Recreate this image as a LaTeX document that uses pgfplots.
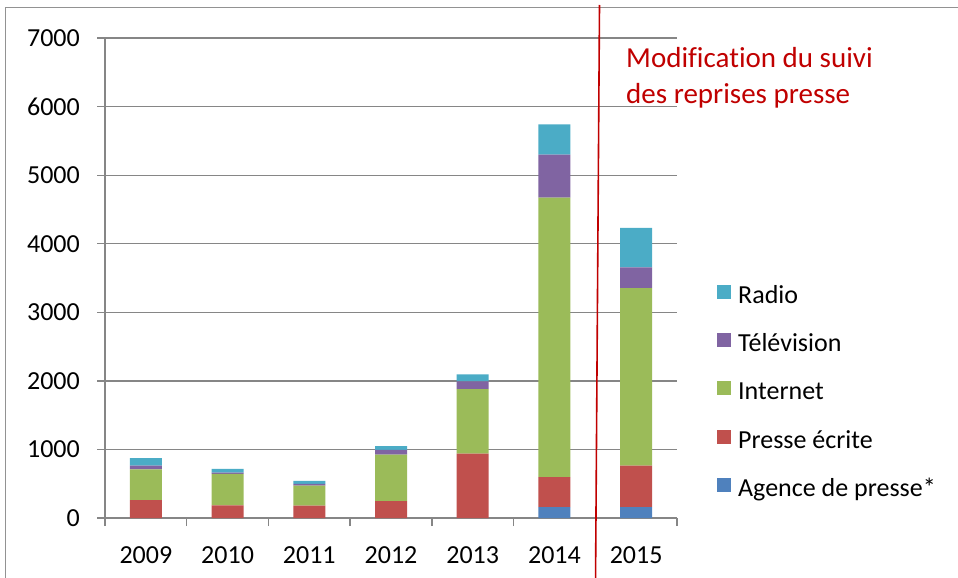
\documentclass[border=0pt]{standalone}
\usepackage{pgfplots}
\pgfplotsset{compat=1.18}
\usepackage{fontspec}
\setmainfont{Carlito}[Ligatures={TeX,NoCommon}]
\definecolor{cAg}{HTML}{4F81BD}
\definecolor{cPr}{HTML}{C0504D}
\definecolor{cIn}{HTML}{9BBB59}
\definecolor{cTv}{HTML}{8064A2}
\definecolor{cRa}{HTML}{4BACC6}
\definecolor{gridgray}{HTML}{868686}
\definecolor{darkred}{HTML}{C00000}
\begin{document}
\begin{tikzpicture}
\useasboundingbox (0pt,0pt) rectangle (958pt,-578pt);
\draw[color=gridgray!90, line width=1pt] (5pt,-590pt) -- (5pt,-8pt) -- (970pt,-8pt);
\begin{axis}[
  at={(105pt,-518pt)}, anchor=south west,
  width=572pt, height=480pt, scale only axis,
  xmin=-0.5, xmax=6.5, ymin=0, ymax=7000,
  ybar stacked, bar width=32pt,
  axis x line*=bottom, axis y line*=left,
  axis line style={gridgray, line width=1.3pt},
  xtick={-0.5,0.5,1.5,2.5,3.5,4.5,5.5,6.5},
  xticklabels={2009,2010,2011,2012,2013,2014,2015},
  x tick label as interval,
  ytick={0,1000,2000,3000,4000,5000,6000,7000},
  ymajorgrids, grid style={gridgray, line width=1.3pt},
  tick style={gridgray, line width=1.3pt},
  major tick length=8pt, tick align=outside,
  /pgf/number format/1000 sep={},
  /pgf/number format/assume math mode=true,
  scaled y ticks=false,
  ticklabel style={font=\fontsize{26}{30}\selectfont, text=black},
  yticklabel style={inner sep=0pt, anchor=east, xshift=-17pt},
  xticklabel style={inner sep=0pt, anchor=north, yshift=-20pt},
  legend style={at={(1.0699,0.4854)}, anchor=north west, draw=none, fill=none,
    inner sep=0pt, font=\fontsize{26}{30}\selectfont, row sep=23.6pt,
    nodes={inner sep=0pt, text height=17pt, text depth=6pt},
    /tikz/every odd column/.append style={column sep=7pt}},
  legend cell align=left,
  reverse legend,
  legend image code/.code={\fill[#1] (0pt,-1pt) rectangle (14pt,13pt);},
]
\addplot[fill=cAg, draw=none] coordinates {(0,0) (1,0) (2,0) (3,0) (4,0) (5,160) (6,160)};
\addlegendentry{Agence de presse*}
\addplot[fill=cPr, draw=none] coordinates {(0,262) (1,185) (2,180) (3,248) (4,939) (5,438) (6,604)};
\addlegendentry{Presse écrite}
\addplot[fill=cIn, draw=none] coordinates {(0,448) (1,457) (2,291) (3,675) (4,942) (5,4075) (6,2590)};
\addlegendentry{Internet}
\addplot[fill=cTv, draw=none] coordinates {(0,53) (1,19) (2,25) (3,69) (4,113) (5,627) (6,302)};
\addlegendentry{Télévision}
\addplot[fill=cRa, draw=none] coordinates {(0,112) (1,54) (2,44) (3,58) (4,102) (5,442) (6,574)};
\addlegendentry{Radio}
\end{axis}
\draw[darkred, line width=1.6pt] (599.5pt,-5pt) -- (595.5pt,-585pt);
\node[anchor=north west, inner sep=0pt, align=left, text=darkred,
  font=\fontsize{29}{36}\selectfont] at (626pt,-47pt) {Modification du suivi\\des reprises presse};
\end{tikzpicture}
\end{document}
